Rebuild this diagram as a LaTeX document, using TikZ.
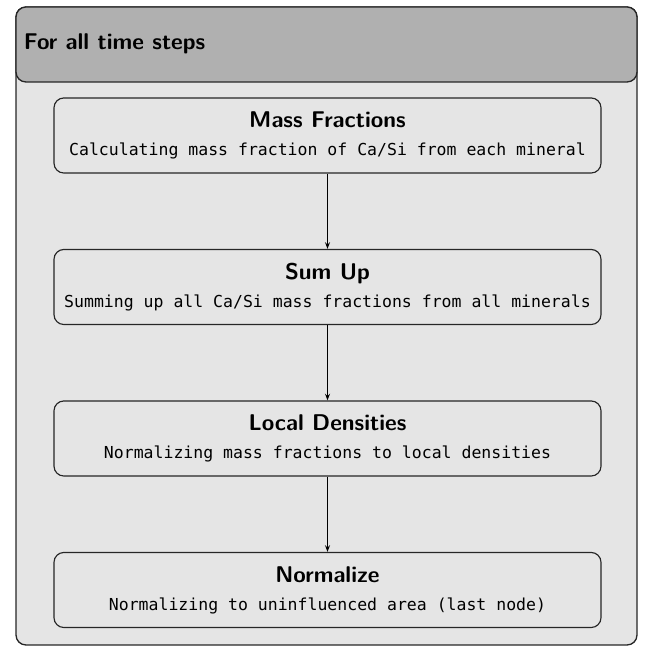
\documentclass[tikz,border=0pt]{standalone}
\usepackage{fontspec}
\setmonofont{DejaVu Sans Mono}
\usetikzlibrary{arrows.meta}
\usetikzlibrary{positioning}
\definecolor{headgray}{HTML}{B0B0B0}
\definecolor{bodygray}{HTML}{E5E5E5}

\begin{document}
\begin{tikzpicture}[
    x=0.606pt, y=-0.606pt
]
\tikzset{
    outerbox/.style = {draw=black!85, rounded corners=6pt, line width=0.8pt},
    stepbox/.style = {rectangle, rounded corners=6pt, draw=black!85, line width=0.7pt,
        fill=bodygray, align=center, minimum width=331.5pt, minimum height=45.5pt, inner sep=0pt},
    edgen/.style = {-{Stealth[length=4pt,width=3pt]}, semithick}
}
\newcommand{\steptext}[2]{{\sffamily\bfseries\fontsize{13.8}{16}\selectfont #1}\\[5pt]{\ttfamily #2}}
\useasboundingbox (0,0) rectangle (649,648);
\draw[outerbox, fill=bodygray] (16,7) rectangle (637,645);
\draw[outerbox, fill=headgray] (16,7) rectangle (637,82);
\node[anchor=west, font=\sffamily\bfseries\fontsize{13.8}{16}\selectfont] (title) at (18,44) {For all time steps};
\node[stepbox] at (327.5,135.5) (mass) {\steptext{Mass Fractions}{Calculating mass fraction of Ca/Si from each mineral}};
\node[stepbox] at (327.5,287) (sum) {\steptext{Sum Up}{Summing up all Ca/Si mass fractions from all minerals}};
\node[stepbox] at (327.5,438.5) (dens) {\steptext{Local Densities}{Normalizing mass fractions to local densities}};
\node[stepbox] at (327.5,590) (norm) {\steptext{Normalize}{Normalizing to uninfluenced area (last node)}};
\draw[edgen] (mass) -- (sum);
\draw[edgen] (sum) -- (dens);
\draw[edgen] (dens) -- (norm);
\end{tikzpicture}
\end{document}
